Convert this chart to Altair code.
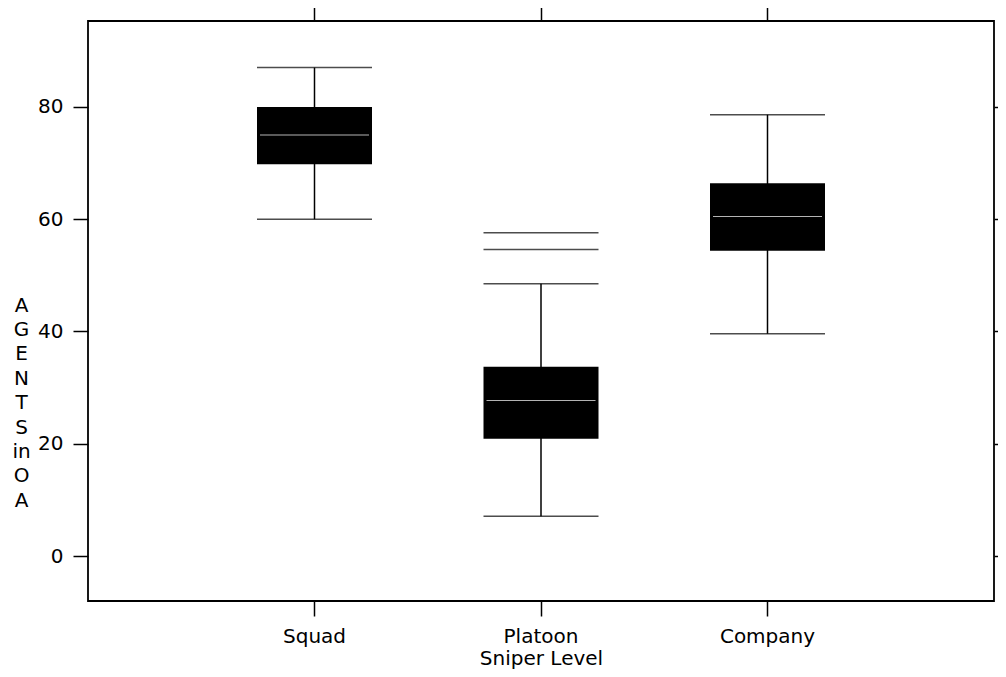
import altair as alt
import pandas as pd

# ---- data ----
cats = ["Squad", "Platoon", "Company"]
lower = [60.0, 7.1, 39.6]
q1 = [69.8, 20.9, 54.4]
median = [75.0, 27.7, 60.5]
q3 = [80.0, 33.7, 66.4]
upper = [87.0, 48.5, 78.6]
outlier_cat = ["Platoon", "Platoon"]
outlier_val = [54.6, 57.6]
y_ticks = [0, 20, 40, 60, 80]

stats = pd.DataFrame({"cat": cats, "lower": lower, "q1": q1, "median": median,
                      "q3": q3, "upper": upper})
outl = pd.DataFrame({"cat": outlier_cat, "val": outlier_val})

FONT = "DejaVu Sans"
xscale = alt.Scale(domain=cats, paddingInner=0, paddingOuter=0.5)
yscale = alt.Scale(domain=[-8, 95.3], nice=False, zero=False)

x_bottom = alt.Axis(orient="bottom", title="Sniper Level", labelAngle=0, tickSize=15,
                    labelPadding=26, labelBaseline="alphabetic", titleBaseline="alphabetic",
                    titleY=63, domain=False)
y_left = alt.Axis(orient="left", values=y_ticks, tickSize=15, labelPadding=10,
                  title=["A", "G", "E", "N", "T", "S", "in", "O", "A"], titleAngle=0,
                  titleAlign="center", titleBaseline="middle", titleLineHeight=24.4,
                  titleX=-67, titleY=284, domain=False)
x_top = alt.Axis(orient="top", labels=False, title=None, tickSize=16, domain=False)
y_right = alt.Axis(orient="right", values=y_ticks, labels=False, title=None, tickSize=8,
                   domain=False)

base = alt.Chart(stats)

whisker = base.mark_rule(color="black", strokeWidth=1.5).encode(
    x=alt.X("cat:N", scale=xscale, axis=x_bottom, sort=cats),
    y=alt.Y("lower:Q", scale=yscale, axis=y_left),
    y2="upper:Q",
)

box = base.mark_bar(color="black", width=115).encode(
    x=alt.X("cat:N", scale=xscale, axis=None, sort=cats),
    y=alt.Y("q1:Q", scale=yscale, axis=None),
    y2="q3:Q",
)

med = base.mark_tick(color="white", size=109, thickness=1).encode(
    x=alt.X("cat:N", scale=xscale, axis=None, sort=cats),
    y=alt.Y("median:Q", scale=yscale, axis=None),
)

cap_hi = base.mark_tick(color="black", size=115, thickness=1.5).encode(
    x=alt.X("cat:N", scale=xscale, axis=x_top, sort=cats),
    y=alt.Y("upper:Q", scale=yscale, axis=y_right),
)

cap_lo = base.mark_tick(color="black", size=115, thickness=1.5).encode(
    x=alt.X("cat:N", scale=xscale, axis=None, sort=cats),
    y=alt.Y("lower:Q", scale=yscale, axis=None),
)

out = alt.Chart(outl).mark_tick(color="black", size=115, thickness=1.5).encode(
    x=alt.X("cat:N", scale=xscale, axis=None, sort=cats),
    y=alt.Y("val:Q", scale=yscale, axis=None),
)

chart = alt.layer(whisker, box, med, cap_hi, cap_lo, out).resolve_axis(
    x="independent", y="independent"
).properties(
    width=906, height=580,
    autosize=alt.AutoSizeParams(type="none"),
    padding={"left": 80, "top": 13, "right": 4, "bottom": 68},
    background="white",
).configure_view(
    stroke="black", strokeWidth=1.8
).configure_axis(
    grid=False,
    labelFont=FONT, labelFontSize=20, labelColor="black",
    titleFont=FONT, titleFontSize=20, titleColor="black", titleFontWeight="normal",
    tickColor="black", tickWidth=1.5,
)

chart.save("out.html", embed_options={"renderer": "svg", "actions": False})
